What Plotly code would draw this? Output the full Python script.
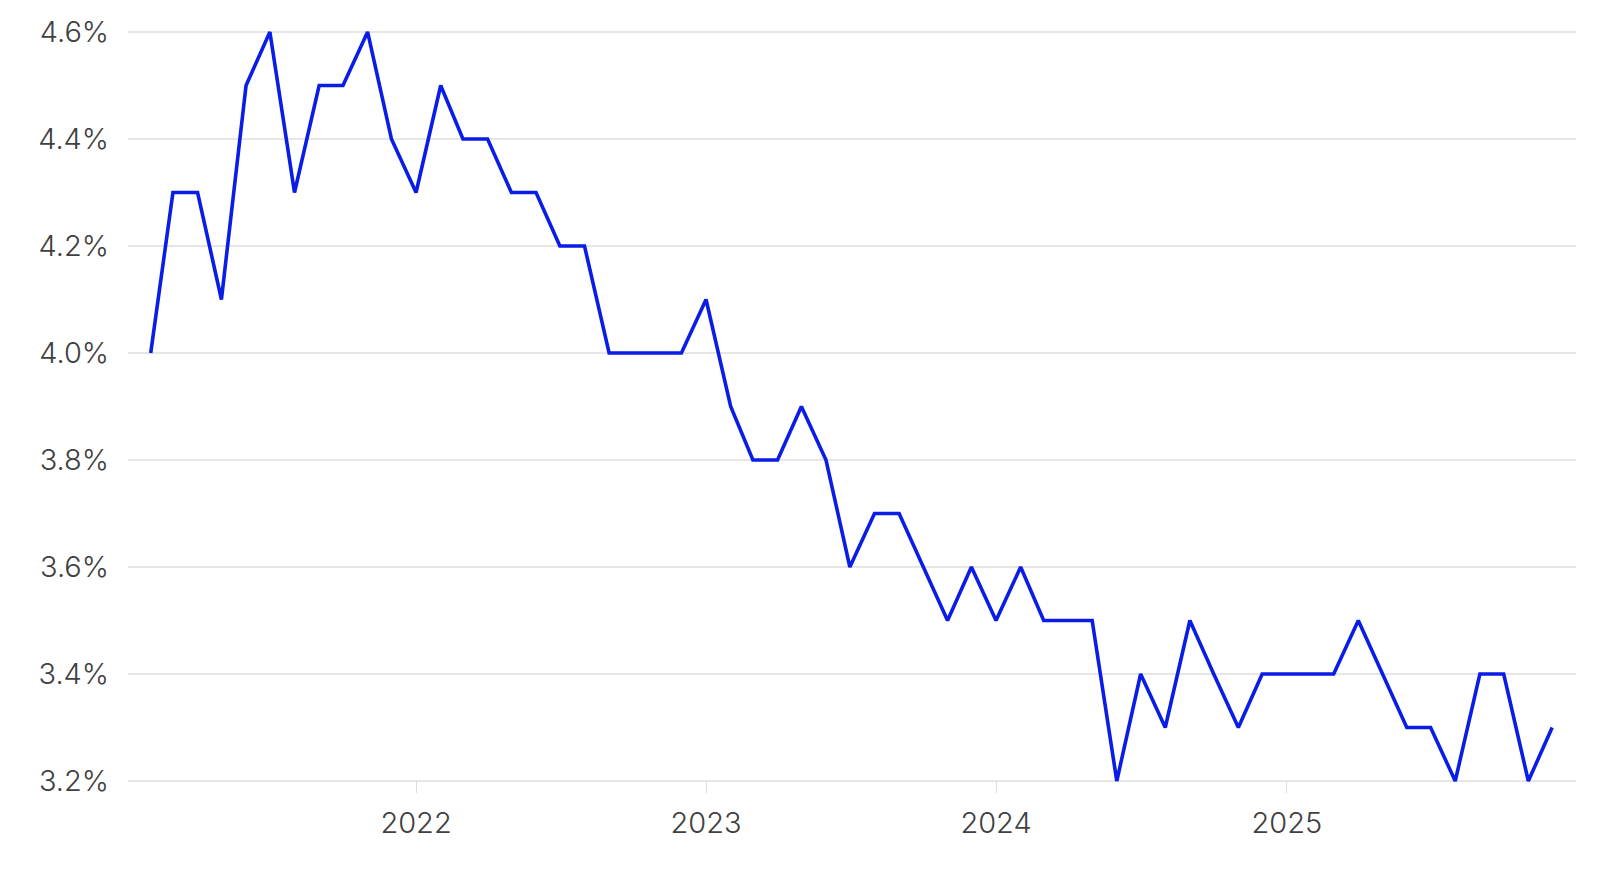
import plotly.graph_objects as go
import pandas as pd

# Monthly series, Feb 2021 - Dec 2025 (percent)
months = pd.date_range("2021-02-01", "2025-12-01", freq="MS")
values = [
    4.0, 4.3, 4.3, 4.1, 4.5, 4.6, 4.3, 4.5, 4.5, 4.6, 4.4,          # 2021 Feb-Dec
    4.3, 4.5, 4.4, 4.4, 4.3, 4.3, 4.2, 4.2, 4.0, 4.0, 4.0, 4.0,     # 2022
    4.1, 3.9, 3.8, 3.8, 3.9, 3.8, 3.6, 3.7, 3.7, 3.6, 3.5, 3.6,     # 2023
    3.5, 3.6, 3.5, 3.5, 3.5, 3.2, 3.4, 3.3, 3.5, 3.4, 3.3, 3.4,     # 2024
    3.4, 3.4, 3.4, 3.5, 3.4, 3.3, 3.3, 3.2, 3.4, 3.4, 3.2, 3.3,     # 2025
]
y_ticks = [3.2, 3.4, 3.6, 3.8, 4.0, 4.2, 4.4, 4.6]
x_ticks = ["2022-01-01", "2023-01-01", "2024-01-01", "2025-01-01"]
x_labels = ["2022", "2023", "2024", "2025"]

FONT = "Inter"
fig = go.Figure(
    go.Scatter(
        x=months, y=values, mode="lines",
        line=dict(color="#0a1de6", width=3.6),
        hoverinfo="skip",
    )
)
fig.update_layout(
    width=1600, height=861,
    margin=dict(l=120, r=32, t=12, b=76),
    paper_bgcolor="white", plot_bgcolor="white",
    showlegend=False,
    font=dict(family=FONT, size=29, color="#404040", weight=300),
)
fig.update_xaxes(
    range=["2021-01-03 10:00", "2025-12-31"],
    tickvals=x_ticks, ticktext=x_labels,
    showgrid=False, zeroline=False, showline=False,
    ticks="inside", ticklen=11, tickwidth=1, tickcolor="#dedede",
    ticklabelstandoff=10, automargin=False,
)
fig.update_yaxes(
    range=[3.1776, 4.6224],
    tickvals=y_ticks, ticktext=[f"{v:.1f}%" for v in y_ticks],
    showgrid=True, gridcolor="#e6e6e6", gridwidth=1.5,
    zeroline=False, showline=False, ticks="",
    ticklabelstandoff=18, automargin=False,
)
fig.write_html("out.html")
